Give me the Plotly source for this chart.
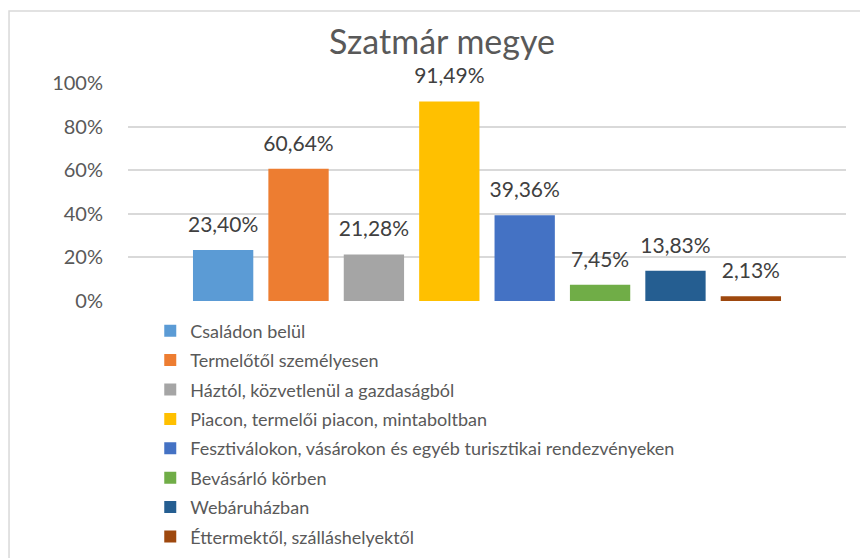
import plotly.graph_objects as go

categories = ["Családon belül", "Termelőtől személyesen", "Háztól, közvetlenül a gazdaságból",
              "Piacon, termelői piacon, mintaboltban",
              "Fesztiválokon, vásárokon és egyéb turisztikai rendezvényeken",
              "Bevásárló körben", "Webáruházban", "Éttermektől, szálláshelyektől"]
values = [0.2340, 0.6064, 0.2128, 0.9149, 0.3936, 0.0745, 0.1383, 0.0213]
colors = ["#5B9BD5", "#ED7D31", "#A5A5A5", "#FFC000", "#4472C4", "#70AD47", "#255E91", "#9E480E"]
group = ["Szatmár megye"]

FONT = "Lato"
fig = go.Figure()
for i, (name, v, c) in enumerate(zip(categories, values, colors)):
    fig.add_trace(go.Bar(
        x=group, y=[v], name=name, legendgroup=f"g{i}",
        marker=dict(color=c, line=dict(width=0)),
    ))
for i, v in enumerate(values):
    fig.add_trace(go.Scatter(
        x=group, y=[v], mode="markers+text", showlegend=False, legendgroup=f"g{i}",
        marker=dict(size=19, color="rgba(0,0,0,0)"),
        texttemplate="%{y:.2%}", textposition="top center", cliponaxis=False,
        textfont=dict(family=FONT, size=21, color="#404040"), hoverinfo="skip",
    ))

fig.update_layout(
    width=860, height=558,
    margin=dict(l=128, r=14, t=83, b=257, autoexpand=False),
    paper_bgcolor="white", plot_bgcolor="white",
    separators=", ",
    barmode="group", bargap=0.16, bargroupgap=0.2,
    scattermode="group", scattergap=0.16,
    title=dict(text="Szatmár megye", x=0.514, xanchor="center", y=0.925, yanchor="middle",
               font=dict(family=FONT, size=34, color="#595959")),
    xaxis=dict(showticklabels=False, showgrid=False, zeroline=False, showline=False),
    yaxis=dict(range=[0, 1.0], tickvals=[0, 0.2, 0.4, 0.6, 0.8, 1.0], tickformat=".0%",
               showgrid=True, gridcolor="#D9D9D9", gridwidth=1.5, zeroline=False, showline=False,
               ticks="outside", ticklen=20, tickcolor="rgba(0,0,0,0)",
               tickfont=dict(family=FONT, size=20, color="#595959")),
    legend=dict(x=0.031, y=-0.0528, xanchor="left", yanchor="top", orientation="v",
                font=dict(family=FONT, size=18, color="#595959"), itemclick=False,
                tracegroupgap=3, bgcolor="rgba(0,0,0,0)"),
    showlegend=True,
)
fig.add_shape(type="rect", xref="paper", yref="paper", x0=-0.1657, x1=1.05, y0=-1.5, y1=1.33,
              line=dict(color="#D9D9D9", width=1.5), fillcolor="rgba(0,0,0,0)", layer="below")
fig.write_html("out.html", config={"displayModeBar": False},
               post_script="document.body.style.margin='0px';")
